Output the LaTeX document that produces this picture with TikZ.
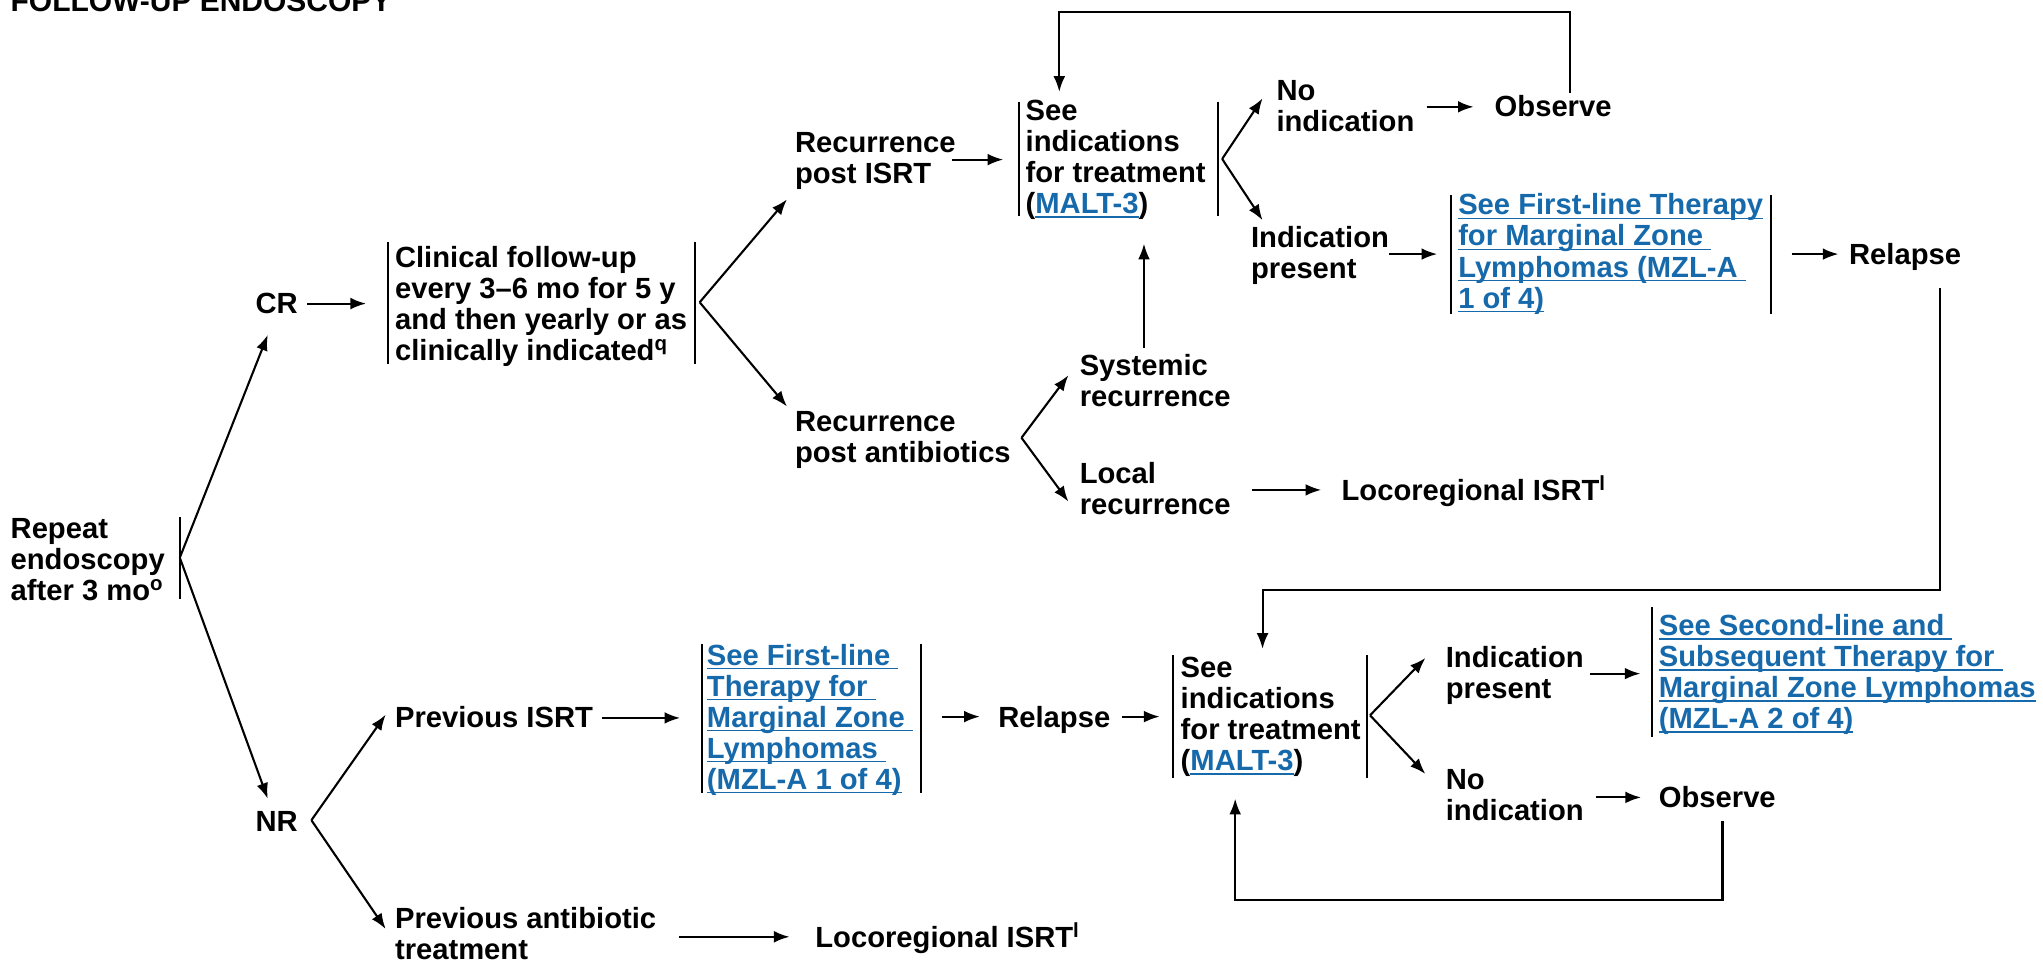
\documentclass[tikz,border=0pt]{standalone}
\usepackage{fontspec}
\setmainfont{Liberation Sans}
\usetikzlibrary{arrows.meta}
\definecolor{linkblue}{RGB}{22,105,170}
\newcommand\stk[1]{\vtop{\baselineskip=23.8pt\lineskiplimit=-100pt\lineskip=0pt\halign{##\hfil\cr#1\crcr}}}
\newcommand\lnk[1]{{\setbox0=\hbox{#1}\rlap{\rule[-3.4pt]{\wd0}{1.4pt}}\box0}}
\begin{document}
\begin{tikzpicture}[x=1pt,y=-1pt,
  txt/.style={anchor=base west, inner sep=0pt, font=\fontsize{22.4}{23.8}\selectfont\bfseries},
  lk/.style={txt, text=linkblue},
  arr/.style={line width=1.6pt, -{Latex[length=12pt,width=9pt]}},
  bar/.style={line width=1.6pt},
  ln/.style={line width=1.6pt}]
\useasboundingbox (0,0) rectangle (1568,739);

% title
\node[txt, font=\fontsize{23}{24}\selectfont\bfseries] (title) at (8,9) {FOLLOW-UP ENDOSCOPY};

% repeat endoscopy
\node[txt] (rep) at (8,413.5) {\stk{Repeat\cr endoscopy\cr after 3 mo\textsuperscript{o}}};
\draw[bar] (138,397) -- (138,460);
\coordinate (repv) at (138,428);
\node[txt] (cr) at (196,240.5) {CR};
\node[txt] (nr) at (196,638.5) {NR};
\coordinate (crT) at (205.5,257);
\coordinate (nrT) at (205.5,613);
\draw[arr] (repv) -- (crT);
\draw[arr] (repv) -- (nrT);

% CR branch
\coordinate (crA) at (236,233);
\coordinate (clinA) at (281,233);
\draw[arr] (crA) -- (clinA);
\node[txt] (clin) at (303,205) {\stk{Clinical follow-up\cr every 3–6 mo for 5 y\cr and then yearly or as\cr clinically indicated\textsuperscript{q}}};
\draw[bar] (297.5,186) -- (297.5,279);
\draw[bar] (533.5,186) -- (533.5,279);
\coordinate (clinv) at (537,232);
\coordinate (rec1T) at (604,153);
\coordinate (rec2T) at (604,312);
\draw[arr] (clinv) -- (rec1T);
\draw[arr] (clinv) -- (rec2T);

\node[txt] (rec1) at (610,117) {\stk{Recurrence\cr post ISRT}};
\coordinate (rec1A) at (731,122.5);
\coordinate (see1A) at (770,122.5);
\draw[arr] (rec1A) -- (see1A);

\node[txt] (see1) at (787,92.5) {\stk{See\cr indications\cr for treatment\cr (\textcolor{linkblue}{\lnk{MALT-3}})}};
\draw[bar] (782,78) -- (782,166);
\draw[bar] (934.5,78) -- (934.5,166);
\coordinate (see1v) at (938,122);
\coordinate (no1T) at (969,75.5);
\coordinate (ind1T) at (969,169);
\draw[arr] (see1v) -- (no1T);
\draw[arr] (see1v) -- (ind1T);

\node[txt] (no1) at (979.5,77) {\stk{No\cr indication}};
\coordinate (no1A) at (1095,82);
\coordinate (obs1A) at (1131,82);
\draw[arr] (no1A) -- (obs1A);
\node[txt] (obs1) at (1147,89.5) {Observe};
\coordinate (obs1up) at (1205,71.5);
\coordinate (see1top) at (813,70.5);
\draw[arr] (obs1up) -- (1205,9) -- (813,9) -- (see1top);

\node[txt] (ind1) at (960,190) {\stk{Indication\cr present}};
\coordinate (ind1A) at (1066,195);
\coordinate (mzl1A) at (1103,195);
\draw[arr] (ind1A) -- (mzl1A);
\node[lk] (mzl1) at (1119,165) {\stk{\lnk{See First-line Therapy}\cr \lnk{for Marginal Zone\ }\cr \lnk{Lymphomas (MZL-A\ }\cr \lnk{1 of 4)}}};
\draw[bar] (1113.5,150) -- (1113.5,241);
\draw[bar] (1359,150) -- (1359,241);
\coordinate (mzl1B) at (1375,195);
\coordinate (rel1A) at (1411,195);
\draw[arr] (mzl1B) -- (rel1A);
\node[txt] (rel1) at (1419,203) {Relapse};
\coordinate (rel1down) at (1489,221);
\coordinate (see2top) at (969,498);
\draw[arr] (rel1down) -- (1489,453) -- (969,453) -- (see2top);

% recurrence post antibiotics
\node[txt] (rec2) at (610,331) {\stk{Recurrence\cr post antibiotics}};
\coordinate (rec2v) at (784,336);
\coordinate (sysT) at (820,288);
\coordinate (locT) at (820,385);
\draw[arr] (rec2v) -- (sysT);
\draw[arr] (rec2v) -- (locT);
\node[txt] (sys) at (828.5,288.5) {\stk{Systemic\cr recurrence}};
\coordinate (sysUp) at (878,267);
\coordinate (see1bot) at (878,187);
\draw[arr] (sysUp) -- (see1bot);
\node[txt] (loc) at (828.5,371) {\stk{Local\cr recurrence}};
\coordinate (locA) at (961,376);
\coordinate (loco1A) at (1014,376);
\draw[arr] (locA) -- (loco1A);
\node[txt] (loco1) at (1029.5,384) {Locoregional ISRT\textsuperscript{l}};

% NR branch
\coordinate (nrv) at (239,629.5);
\coordinate (pisT) at (296,548.5);
\coordinate (pabT) at (296,713);
\draw[arr] (nrv) -- (pisT);
\draw[arr] (nrv) -- (pabT);
\node[txt] (pis) at (303,558.5) {Previous ISRT};
\coordinate (pisA) at (462,551);
\coordinate (mzl2A) at (522,551);
\draw[arr] (pisA) -- (mzl2A);
\node[lk] (mzl2) at (542.4,510.4) {\stk{\lnk{See First-line\ }\cr \lnk{Therapy for\ }\cr \lnk{Marginal Zone\ }\cr \lnk{Lymphomas\ }\cr \lnk{(MZL-A 1 of 4)}}};
\draw[bar] (538.5,494) -- (538.5,609);
\draw[bar] (706.6,494) -- (706.6,609);
\coordinate (mzl2B) at (723,550);
\coordinate (rel2A) at (752,550);
\draw[arr] (mzl2B) -- (rel2A);
\node[txt] (rel2) at (766,558.5) {Relapse};
\coordinate (rel2B) at (861,550);
\coordinate (see2A) at (890,550);
\draw[arr] (rel2B) -- (see2A);

\node[txt] (see2) at (906,520) {\stk{See\cr indications\cr for treatment\cr (\textcolor{linkblue}{\lnk{MALT-3}})}};
\draw[bar] (900,503) -- (900,597);
\draw[bar] (1049,503) -- (1049,597);
\coordinate (see2v) at (1051.5,549);
\coordinate (ind2T) at (1094,505);
\coordinate (no2T) at (1094,594);
\draw[arr] (see2v) -- (ind2T);
\draw[arr] (see2v) -- (no2T);

\node[txt] (ind2) at (1109.5,512) {\stk{Indication\cr present}};
\coordinate (ind2A) at (1220,517);
\coordinate (mzl3A) at (1259,517);
\draw[arr] (ind2A) -- (mzl3A);
\node[lk] (mzl3) at (1273,488) {\stk{\lnk{See Second-line and\ }\cr \lnk{Subsequent Therapy for\ }\cr \lnk{Marginal Zone Lymphomas}\cr \lnk{(MZL-A 2 of 4)}}};
\draw[bar] (1267.6,466) -- (1267.6,566);

\node[txt] (no2) at (1109.5,606) {\stk{No\cr indication}};
\coordinate (no2A) at (1225,612);
\coordinate (obs2A) at (1259.5,612);
\draw[arr] (no2A) -- (obs2A);
\node[txt] (obs2) at (1273,619.5) {Observe};
\coordinate (obs2down) at (1322,630);
\coordinate (see2bot) at (948,613);
\draw[arr] (obs2down) -- (1322,691) -- (948,691) -- (see2bot);

\node[txt] (pab) at (303,712.7) {\stk{Previous antibiotic\cr treatment}};
\coordinate (pabA) at (521,719);
\coordinate (loco2A) at (606,719);
\draw[arr] (pabA) -- (loco2A);
\node[txt] (loco2) at (625.6,727) {Locoregional ISRT\textsuperscript{l}};
\end{tikzpicture}
\end{document}
